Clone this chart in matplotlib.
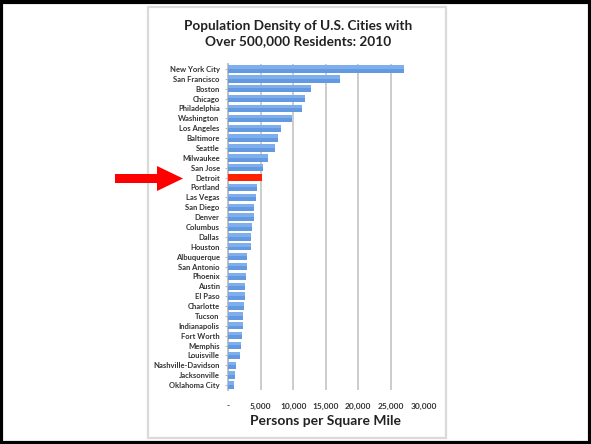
import matplotlib.pyplot as plt
from matplotlib.patches import Rectangle, FancyArrow

# Datos: densidad de poblacion (personas por milla cuadrada), 2010
cities = ["New York City", "San Francisco", "Boston", "Chicago", "Philadelphia",
          "Washington", "Los Angeles", "Baltimore", "Seattle", "Milwaukee",
          "San Jose", "Detroit", "Portland", "Las Vegas", "San Diego", "Denver",
          "Columbus", "Dallas", "Houston", "Albuquerque", "San Antonio",
          "Phoenix", "Austin", "El Paso", "Charlotte", "Tucson", "Indianapolis",
          "Fort Worth", "Memphis", "Louisville", "Nashville-Davidson",
          "Jacksonville", "Oklahoma City"]
density = [27012, 17179, 12793, 11841, 11380, 9856, 8092, 7672, 7251, 6188,
           5359, 5144, 4375, 4298, 4020, 3923, 3624, 3518, 3501, 2908, 2880,
           2798, 2653, 2543, 2457, 2294, 2270, 2181, 2053, 1837, 1265, 1100, 956]
highlight = "Detroit"
ticks = [0, 5000, 10000, 15000, 20000, 25000, 30000]
tick_labels = ["-", "5,000", "10,000", "15,000", "20,000", "25,000", "30,000"]

plt.rcParams['font.family'] = ['Lato', 'DejaVu Sans']

W, H = 591, 444
fig = plt.figure(figsize=(W / 100, H / 100), dpi=100)

# marco exterior negro y panel gris del grafico
fig.patches.append(Rectangle((1.5 / W, 1.5 / H), (W - 3) / W, (H - 4) / H,
                             transform=fig.transFigure, fill=False,
                             edgecolor="black", lw=3))
fig.patches.append(Rectangle((148 / W, (H - 438) / H), 298 / W, 431 / H,
                             transform=fig.transFigure, fill=False,
                             edgecolor="#dadada", lw=1.6))

ax = fig.add_axes([228 / W, (H - 390) / H, 195.5 / W, 326 / H])
ypos = list(range(len(cities)))
colors = ["#ff2200" if c == highlight else "#6299e0" for c in cities]
ax.barh(ypos, density, height=0.75, color=colors, zorder=3)
# brillo suave en la parte superior de cada barra azul (degradado tipo Excel)
shine = [0 if c == highlight else d for c, d in zip(cities, density)]
ax.barh([y - 0.2 for y in ypos], shine, height=0.35, color="#7eaeec", zorder=4)

ax.set_ylim(len(cities) - 0.5, -0.5)
ax.set_xlim(0, 30000)
ax.set_yticks(ypos)
ax.set_yticklabels(cities, fontsize=5.5, fontweight="bold", color="#333333")
ax.set_xticks(ticks)
ax.set_xticklabels(tick_labels, fontsize=6, fontweight="bold", color="#333333")
ax.tick_params(axis="x", length=0, pad=9)
ax.tick_params(axis="y", length=2, color="#bbbbbb", pad=4)
ax.grid(axis="x", color="#c8c8c8", lw=1.3, zorder=0)
for s in ["top", "right", "bottom"]:
    ax.spines[s].set_visible(False)
ax.spines["left"].set_color("#bbbbbb")
ax.spines["left"].set_linewidth(1.3)
ax.set_xlabel("Persons per Square Mile", fontsize=10, fontweight="bold",
              color="#222222", labelpad=4)

fig.text(298 / W, 1 - 34 / H,
         "Population Density of U.S. Cities with\nOver 500,000 Residents: 2010",
         ha="center", va="center", fontsize=9.8, fontweight="bold",
         color="#222222", linespacing=1.3)

# flecha roja senalando a Detroit
fig.patches.append(FancyArrow(115 / W, 1 - 178.5 / H, 42 / W, 0,
                              width=9 / H, head_width=25 / H,
                              head_length=26 / W, length_includes_head=False,
                              transform=fig.transFigure, color="#ff0000", lw=0))

fig.savefig("out.png", dpi=100)
